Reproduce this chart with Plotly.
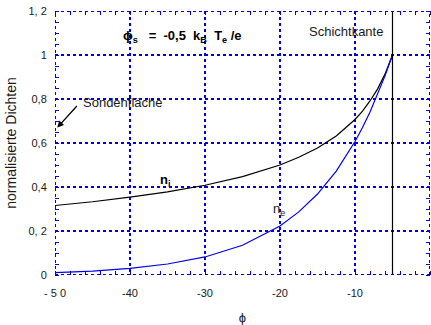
import plotly.graph_objects as go

# Potential values (phi) and normalised densities
phi = [-50, -45, -40, -35, -30, -25, -20, -17.5, -15, -12.5, -10, -9, -8, -7, -6, -5]
n_e = [0.011, 0.018, 0.030, 0.050, 0.082, 0.135, 0.223, 0.287, 0.368, 0.472,
       0.607, 0.670, 0.741, 0.819, 0.905, 1.0]
n_i = [0.316, 0.333, 0.354, 0.378, 0.408, 0.447, 0.500, 0.535, 0.577, 0.632,
       0.707, 0.745, 0.791, 0.845, 0.913, 1.0]
sheath_edge = -5

x_ticks = [-50, -40, -30, -20, -10, 0]
x_labels = ["- 5 0", "-40", "-30", "-20", "-10", "0"]
y_ticks = [0, 0.2, 0.4, 0.6, 0.8, 1.0, 1.2]
y_labels = ["0", "0, 2", "0,4", "0,6", "0,8", "1", "1, 2"]

BLUE = "#0000dd"
FONT = "Liberation Sans, Arial, sans-serif"
TXT = "#1a1a1a"

fig = go.Figure()
fig.add_trace(go.Scatter(x=phi, y=n_i, mode="lines",
                         line=dict(color="black", width=1.2), showlegend=False))
fig.add_trace(go.Scatter(x=phi, y=n_e, mode="lines",
                         line=dict(color="#0000ee", width=1.2), showlegend=False))

# sheath edge marker
fig.add_shape(type="line", x0=sheath_edge, x1=sheath_edge, y0=0, y1=1.2,
              line=dict(color="black", width=1.2))

# dotted frame
for x0, y0, x1, y1 in [(-50, 0, 0, 0), (-50, 1.2, 0, 1.2), (-50, 0, -50, 1.2), (0, 0, 0, 1.2)]:
    fig.add_shape(type="line", x0=x0, y0=y0, x1=x1, y1=y1,
                  line=dict(color=BLUE, width=2, dash="dot"))

axis_common = dict(showline=True, linecolor="rgba(0,0,0,0)", mirror="allticks",
                   showgrid=True, gridcolor=BLUE, gridwidth=2, griddash="dot",
                   zeroline=False, ticks="", tickfont=dict(family=FONT, size=11, color=TXT))

fig.update_xaxes(range=[-50, 0], tickvals=x_ticks, ticktext=x_labels, ticklabelstandoff=8,
                 minor=dict(dtick=2, ticks="inside", ticklen=4, tickcolor=BLUE, tickwidth=1,
                            showgrid=False),
                 title=dict(text="ϕ", font=dict(family=FONT, size=13, color=TXT), standoff=14),
                 **axis_common)
fig.update_yaxes(range=[0, 1.2], tickvals=y_ticks, ticktext=y_labels, ticklabelstandoff=5,
                 minor=dict(dtick=0.05, ticks="inside", ticklen=4, tickcolor=BLUE, tickwidth=1,
                            showgrid=False),
                 title=dict(text="normalisierte Dichten", font=dict(family=FONT, size=14, color=TXT),
                            standoff=8),
                 **axis_common)

fig.add_annotation(x=-33.0, y=1.085, xref="x", yref="y", showarrow=False,
                   text="<b>ϕ<sub>s</sub>   =  -0,5  k<sub>B</sub>  T<sub>e</sub> /e</b>",
                   font=dict(family=FONT, size=13, color="black"))
fig.add_annotation(x=-11.2, y=1.105, xref="x", yref="y", showarrow=False,
                   text="Schichtkante", font=dict(family=FONT, size=13, color=TXT))
fig.add_annotation(x=-49.7, y=0.67, ax=-46.9, ay=0.775, xref="x", yref="y", axref="x", ayref="y",
                   showarrow=True, arrowhead=2, arrowsize=1, arrowwidth=1.3, arrowcolor="black",
                   text="")
fig.add_annotation(x=-46.6, y=0.785, xref="x", yref="y", showarrow=False, xanchor="left",
                   text="Sondenfläche", font=dict(family=FONT, size=13, color=TXT))
fig.add_annotation(x=-35.4, y=0.43, xref="x", yref="y", showarrow=False,
                   text="<b>n<sub>i</sub></b>", font=dict(family=FONT, size=13, color="black"))
fig.add_annotation(x=-20.2, y=0.30, xref="x", yref="y", showarrow=False,
                   text="n<sub>e</sub>", font=dict(family=FONT, size=13, color=TXT))

fig.update_layout(width=431, height=325, margin=dict(l=55, r=1, t=11, b=50),
                  plot_bgcolor="white", paper_bgcolor="white")

fig.write_html("out.html")
